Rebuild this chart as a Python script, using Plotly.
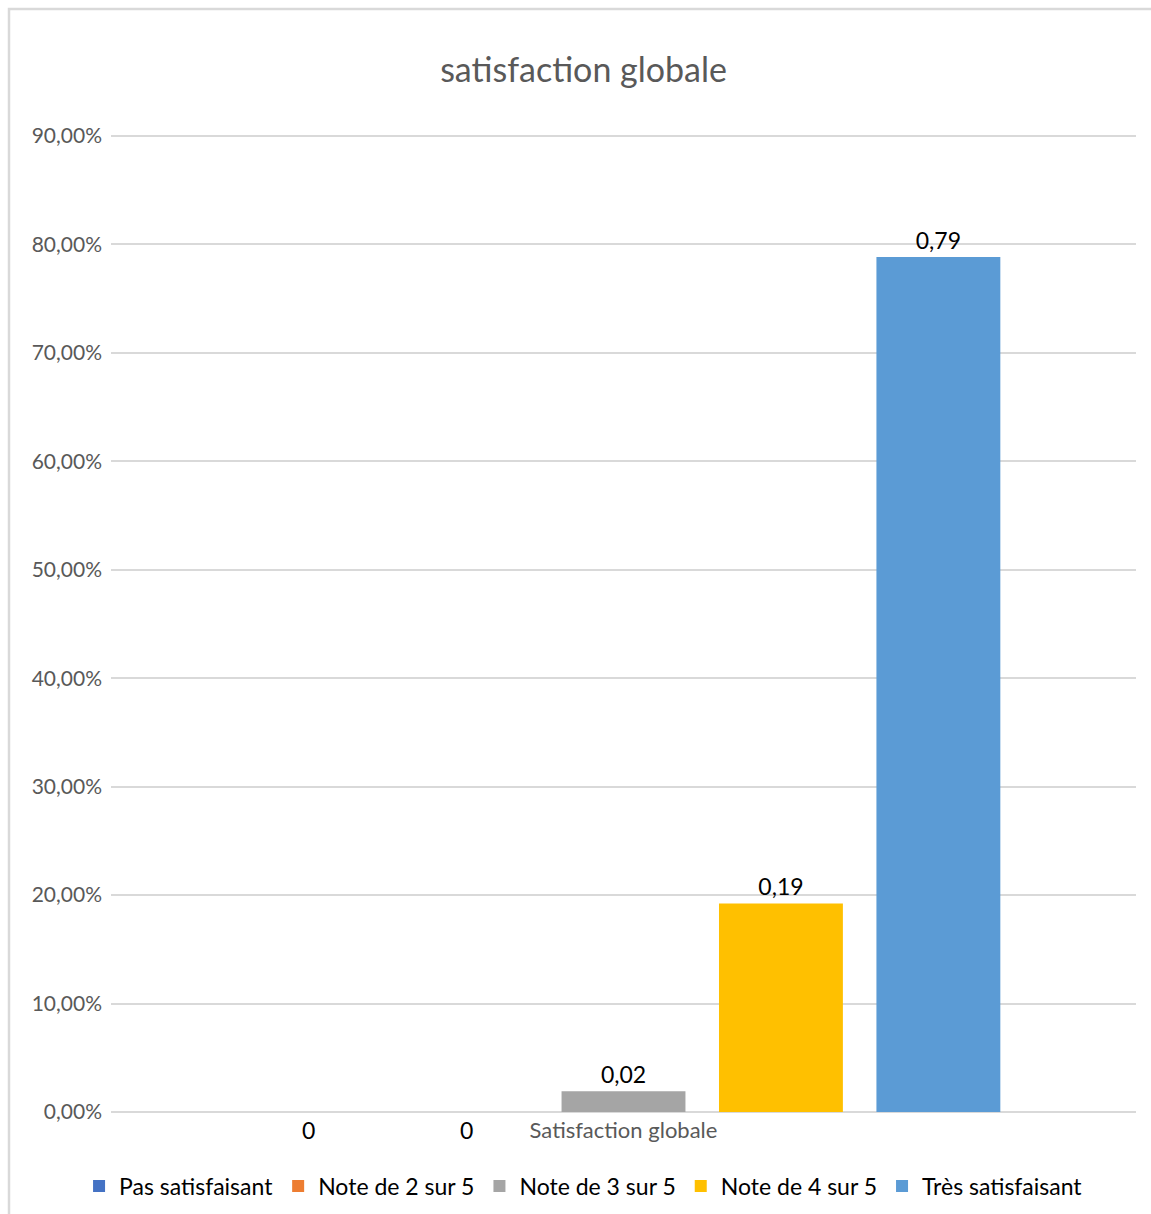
import plotly.graph_objects as go

category = ["Satisfaction globale"]
series_names = ["Pas satisfaisant", "Note de 2 sur 5", "Note de 3 sur 5", "Note de 4 sur 5", "Très satisfaisant"]
values = [0.0, 0.0, 0.0192, 0.1923, 0.7885]
colors = ["#4472C4", "#ED7D31", "#A5A5A5", "#FFC000", "#5B9BD5"]
y_ticks = [i / 100 for i in range(0, 91, 10)]

FONT = "Lato"
BARGAP = 0.232
n = len(series_names)


def fmt(v):
    return "0" if v == 0 else f"{v:.2f}".replace(".", ",")


fig = go.Figure()
for name, v, c in zip(series_names, values, colors):
    fig.add_trace(go.Bar(
        x=category, y=[v], name=name, marker=dict(color=c, line=dict(width=0)),
        text=[fmt(v)] if v != 0 else None, textposition="outside",
        textfont=dict(family=FONT, size=23, color="#000000"),
        cliponaxis=False,
    ))

# zero-value labels (below the axis, like the original)
annotations = []
slot = (1 - BARGAP) / n
for i, v in enumerate(values):
    if v == 0:
        annotations.append(dict(
            x=(i - (n - 1) / 2) * slot, y=v, xref="x", yref="y",
            text=fmt(v), showarrow=False, yanchor="top", yshift=-2,
            font=dict(family=FONT, size=23, color="#000000"),
        ))

W, H = 1151, 1214
ml, mr, mt, mb = 111, 15, 130, 102
pw, ph = W - ml - mr, H - mt - mb
px_per_unit = (H - mb - 136) / 0.9
y_top = (H - mb - mt) / px_per_unit

fig.update_layout(
    width=W, height=H,
    margin=dict(l=ml, r=mr, t=mt, b=mb),
    paper_bgcolor="white", plot_bgcolor="white",
    separators=", ",
    barmode="group", bargap=BARGAP, bargroupgap=0.213,
    title=dict(text="satisfaction globale", x=0.507, xanchor="center",
               y=1 - 70 / H, yanchor="middle", xref="container", yref="container",
               font=dict(family=FONT, size=34, color="#595959")),
    font=dict(family=FONT),
    xaxis=dict(showgrid=False, showline=False, ticks="", zeroline=False,
               tickfont=dict(family=FONT, size=22, color="#595959"), ticklabelstandoff=3),
    yaxis=dict(range=[0, y_top], tickvals=y_ticks, tickformat=".2%",
               showgrid=True, gridcolor="#D9D9D9", gridwidth=1.5,
               zeroline=True, zerolinecolor="#D9D9D9", zerolinewidth=1.5,
               showline=False, ticks="", ticklabelstandoff=8,
               tickfont=dict(family=FONT, size=21, color="#595959")),
    legend=dict(orientation="h", xref="container", yref="container",
                x=0.507, xanchor="center", y=1 - 1186 / H, yanchor="middle",
                font=dict(family=FONT, size=23, color="#000000"),
                itemwidth=30, traceorder="normal"),
    annotations=annotations,
    shapes=[dict(type="rect", xref="paper", yref="paper",
                 x0=(9 - ml) / pw, x1=(W + 5 - ml) / pw,
                 y0=-(H + 5 - (H - mb)) / ph, y1=(H - mb - 9) / ph,
                 line=dict(color="#D9D9D9", width=2.5), fillcolor="rgba(0,0,0,0)",
                 layer="below")],
)

fig.write_html("out.html")
